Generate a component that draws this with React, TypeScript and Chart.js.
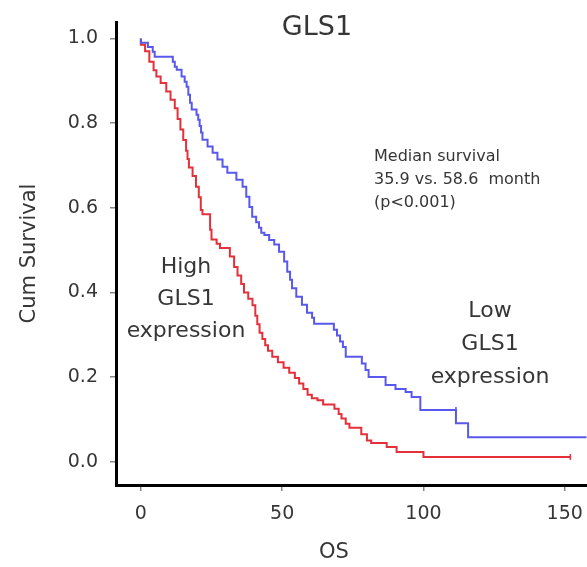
import React, { useEffect, useRef } from 'react';
import { Chart, registerables } from 'chart.js';

Chart.register(...registerables);

// ---- data ----
const xTicks = [0, 50, 100, 150];
const yTicks = [0, 0.2, 0.4, 0.6, 0.8, 1.0];

const highLabel = 'High GLS1 expression';
const highTimes = [0, 1.5, 3, 4.5, 5.5, 7, 9, 10.5, 12, 13, 14, 15, 16, 16.5, 17, 18.3, 19.5, 20.5, 21.2, 21.8, 24.5, 25, 26.8, 28, 31.5, 33, 34.2, 35.5, 36.5, 38, 39.5, 40.5, 41.2, 42, 43, 44, 45, 46.5, 48.5, 50.5, 52.5, 54.5, 56, 57.5, 59, 60.5, 62.5, 64.5, 68.5, 70, 71, 72.5, 73.8, 78, 80, 81.5, 87, 90.5, 100, 107, 152];
const highSurv = [1.0, 0.985, 0.97, 0.945, 0.925, 0.91, 0.895, 0.875, 0.855, 0.835, 0.81, 0.785, 0.76, 0.735, 0.715, 0.695, 0.675, 0.65, 0.625, 0.595, 0.585, 0.548, 0.525, 0.515, 0.505, 0.485, 0.46, 0.44, 0.42, 0.40, 0.385, 0.37, 0.345, 0.325, 0.305, 0.29, 0.275, 0.262, 0.248, 0.235, 0.222, 0.21, 0.198, 0.185, 0.172, 0.158, 0.15, 0.145, 0.135, 0.125, 0.113, 0.102, 0.09, 0.08, 0.065, 0.05, 0.044, 0.035, 0.023, 0.011, 0.011];
const highCensor = [152];

const lowLabel = 'Low GLS1 expression';
const lowTimes = [0, 2.5, 4.2, 4.9, 11.3, 12, 12.7, 14.4, 15.5, 16.2, 16.8, 17.4, 18, 19.7, 20.3, 20.8, 21.3, 21.8, 23.6, 25.4, 27.1, 28.9, 30.6, 33.8, 36, 37.3, 38.4, 39.4, 40.8, 41.8, 42.6, 43.7, 45.4, 47.2, 48.9, 50.7, 51.8, 52.8, 53.5, 55, 57, 58.8, 60.6, 61.3, 68.3, 69.4, 70.5, 71.5, 72.5, 78.2, 79.5, 80.6, 86.6, 90.1, 93.7, 95.8, 98.9, 99.3, 111.5, 115.8, 138, 165];
const lowSurv = [1.0, 0.99, 0.98, 0.969, 0.957, 0.945, 0.933, 0.926, 0.91, 0.898, 0.886, 0.867, 0.848, 0.832, 0.82, 0.808, 0.793, 0.778, 0.761, 0.745, 0.73, 0.714, 0.697, 0.683, 0.666, 0.65, 0.626, 0.602, 0.579, 0.566, 0.553, 0.541, 0.536, 0.524, 0.513, 0.496, 0.473, 0.449, 0.43, 0.41, 0.39, 0.371, 0.352, 0.34, 0.326, 0.312, 0.298, 0.284, 0.271, 0.248, 0.232, 0.217, 0.2, 0.181, 0.172, 0.165, 0.153, 0.122, 0.122, 0.091, 0.058, 0.058];
const lowCensor = [111.5];

const titleText = 'GLS1';
const xTitle = 'OS';
const yTitle = 'Cum Survival';
const medianLines = ['Median survival', '35.9 vs. 58.6  month', '(p<0.001)'];
const highLines = ['High', 'GLS1', 'expression'];
const lowLines = ['Low', 'GLS1', 'expression'];

const FONT = "'DejaVu Sans', sans-serif";
const TEXT = '#363636';
const RED = 'rgb(228, 48, 58)';
const BLUE = 'rgb(88, 88, 236)';

const textPlugin = {
  id: 'textPlugin',
  afterDraw(chart: any) {
    const ctx = chart.ctx;
    ctx.save();
    ctx.fillStyle = TEXT;
    ctx.textBaseline = 'middle';
    ctx.textAlign = 'center';
    ctx.font = `27px ${FONT}`;
    ctx.fillText(titleText, 317, 28);
    ctx.font = `21px ${FONT}`;
    ctx.fillText(xTitle, 334, 553);
    ctx.font = `22px ${FONT}`;
    highLines.forEach((t, i) => ctx.fillText(t, 186, 267 + i * 32));
    lowLines.forEach((t, i) => ctx.fillText(t, 490, 311 + i * 33));
    ctx.textAlign = 'left';
    ctx.font = `16px ${FONT}`;
    medianLines.forEach((t, i) => ctx.fillText(t, 374, 157 + i * 23));
    ctx.restore();
  },
};

function toPoints(times: number[], surv: number[]) {
  return times.map((t, i) => ({ x: t, y: surv[i] }));
}

export default function App() {
  const ref = useRef<HTMLCanvasElement>(null);
  useEffect(() => {
    if (!ref.current) return;
    const chart = new Chart(ref.current, {
      type: 'line',
      data: {
        datasets: [
          {
            label: lowLabel,
            data: toPoints(lowTimes, lowSurv),
            borderColor: BLUE,
            backgroundColor: BLUE,
            borderWidth: 2,
            stepped: 'after',
            pointRadius: lowTimes.map((t) => (lowCensor.includes(t) ? 3 : 0)),
            pointStyle: 'line',
            rotation: 90,
            pointBorderWidth: 1.5,
          },
          {
            label: highLabel,
            data: toPoints(highTimes, highSurv),
            borderColor: RED,
            backgroundColor: RED,
            borderWidth: 2,
            stepped: 'after',
            pointRadius: highTimes.map((t) => (highCensor.includes(t) ? 3 : 0)),
            pointStyle: 'line',
            rotation: 90,
            pointBorderWidth: 1.5,
          },
        ],
      },
      options: {
        animation: false,
        responsive: false,
        layout: { padding: { top: 22, left: 0, right: 0, bottom: 0 } },
        plugins: { legend: { display: false }, tooltip: { enabled: false }, title: { display: false } },
        scales: {
          x: {
            type: 'linear',
            min: -8.8,
            max: 157.7,
            afterBuildTicks: (axis: any) => {
              axis.ticks = xTicks.map((v) => ({ value: v }));
            },
            afterFit: (axis: any) => {
              axis.height = 82;
              axis.paddingRight = 0;
              axis.paddingLeft = 0;
            },
            grid: { drawOnChartArea: false, drawTicks: true, tickLength: 6, color: '#888', lineWidth: 1.5 },
            border: { display: true, color: '#000', width: 3 },
            ticks: { color: TEXT, font: { family: FONT, size: 19 }, padding: 12, maxRotation: 0 },
          },
          y: {
            type: 'linear',
            min: -0.055,
            max: 1.039,
            afterBuildTicks: (axis: any) => {
              axis.ticks = yTicks.map((v) => ({ value: v }));
            },
            afterFit: (axis: any) => {
              axis.width = 116;
              axis.paddingTop = 0;
              axis.paddingBottom = 0;
            },
            grid: { drawOnChartArea: false, drawTicks: true, tickLength: 6, color: '#888', lineWidth: 1.5 },
            border: { display: true, color: '#000', width: 3 },
            ticks: {
              color: TEXT,
              font: { family: FONT, size: 19 },
              padding: 12,
              callback: (v: any) => Number(v).toFixed(1),
            },
            title: {
              display: true,
              text: yTitle,
              color: TEXT,
              font: { family: FONT, size: 21 },
              padding: { top: 17, bottom: 0 },
            },
          },
        },
      },
      plugins: [textPlugin],
    } as any);
    return () => chart.destroy();
  }, []);
  return (
    <div style={{ position: 'absolute', left: 0, top: 0, width: 587, height: 567, overflow: 'hidden', background: '#fff' }}>
      <canvas ref={ref} width={592} height={567} style={{ width: 592, height: 567, display: 'block' }} />
    </div>
  );
}
